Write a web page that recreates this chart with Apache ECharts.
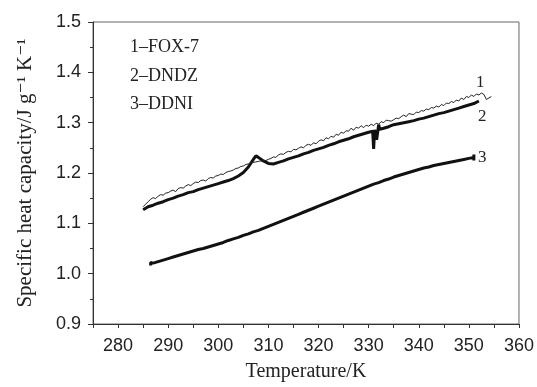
<!DOCTYPE html>
<html>
<head>
<meta charset="utf-8">
<script src="https://cdn.jsdelivr.net/npm/echarts@6/dist/echarts.min.js"></script>
<style>
  body { margin: 0; background: #fff; }
  #chart { width: 537px; height: 387px; }
</style>
</head>
<body>
<div id="chart"></div>
<script>
// 1-FOX-7 (thin line)
var fox7T = [285, 285.5, 286, 286.5, 287, 287.5, 288, 288.5, 289, 289.5, 290, 290.5, 291, 291.5, 292, 292.5, 293, 293.5, 294, 294.5, 295, 295.5, 296, 296.5, 297, 297.5, 298, 298.5, 299, 299.5, 300, 300.5, 301, 301.5, 302, 302.5, 303, 303.5, 304, 304.5, 305, 305.5, 306, 306.5, 307, 307.5, 308, 308.5, 309, 309.5, 310, 310.5, 311, 311.5, 312, 312.5, 313, 313.5, 314, 314.5, 315, 315.5, 316, 316.5, 317, 317.5, 318, 318.5, 319, 319.5, 320, 320.5, 321, 321.5, 322, 322.5, 323, 323.5, 324, 324.5, 325, 325.5, 326, 326.5, 327, 327.5, 328, 328.5, 329, 329.5, 330, 330.5, 331, 331.5, 332, 332.5, 333, 333.5, 334, 334.5, 335, 335.5, 336, 336.5, 337, 337.5, 338, 338.5, 339, 339.5, 340, 340.5, 341, 341.5, 342, 342.5, 343, 343.5, 344, 344.5, 345, 345.5, 346, 346.5, 347, 347.5, 348, 348.5, 349, 349.5, 350, 350.5, 351, 351.5, 352, 352.5, 353, 353.5, 354, 354.5];
var fox7Cp = [1.133, 1.138, 1.143, 1.148, 1.151, 1.149, 1.154, 1.157, 1.156, 1.160, 1.161, 1.164, 1.166, 1.163, 1.169, 1.171, 1.170, 1.174, 1.177, 1.175, 1.179, 1.182, 1.181, 1.185, 1.186, 1.184, 1.189, 1.191, 1.190, 1.194, 1.195, 1.198, 1.197, 1.201, 1.203, 1.204, 1.206, 1.209, 1.210, 1.213, 1.214, 1.217, 1.218, 1.220, 1.221, 1.222, 1.223, 1.224, 1.224, 1.225, 1.227, 1.229, 1.232, 1.231, 1.236, 1.238, 1.237, 1.241, 1.243, 1.242, 1.247, 1.246, 1.249, 1.252, 1.250, 1.255, 1.257, 1.255, 1.260, 1.258, 1.263, 1.266, 1.264, 1.270, 1.268, 1.273, 1.271, 1.277, 1.275, 1.281, 1.279, 1.284, 1.283, 1.289, 1.285, 1.291, 1.289, 1.294, 1.290, 1.295, 1.293, 1.297, 1.294, 1.299, 1.297, 1.302, 1.300, 1.305, 1.304, 1.303, 1.306, 1.309, 1.308, 1.312, 1.315, 1.312, 1.318, 1.317, 1.316, 1.321, 1.320, 1.324, 1.323, 1.327, 1.326, 1.330, 1.329, 1.333, 1.331, 1.336, 1.334, 1.339, 1.338, 1.342, 1.340, 1.345, 1.343, 1.349, 1.346, 1.352, 1.350, 1.355, 1.352, 1.357, 1.355, 1.359, 1.356, 1.346, 1.349, 1.352, 1.357];

// 2-DNDZ (thick line)
var dndzT = [285, 286, 287, 288, 289, 290, 291, 292, 293, 294, 295, 296, 297, 298, 299, 300, 301, 302, 303, 304, 305, 306, 307, 307.5, 308, 309, 310, 311, 312, 313, 314, 315, 316, 317, 318, 319, 320, 321, 322, 323, 324, 325, 326, 327, 328, 329, 330, 330.8, 331, 331.2, 331.6, 332, 332.2, 333, 334, 335, 336, 337, 338, 339, 340, 341, 342, 343, 344, 345, 346, 347, 348, 349, 350, 351, 352];
var dndzCp = [1.127, 1.133, 1.136, 1.140, 1.143, 1.147, 1.150, 1.154, 1.157, 1.161, 1.163, 1.167, 1.170, 1.173, 1.176, 1.179, 1.182, 1.185, 1.189, 1.194, 1.201, 1.212, 1.227, 1.234, 1.231, 1.224, 1.219, 1.218, 1.221, 1.224, 1.228, 1.231, 1.234, 1.238, 1.241, 1.245, 1.248, 1.251, 1.255, 1.258, 1.262, 1.265, 1.268, 1.272, 1.275, 1.278, 1.281, 1.283, 1.248, 1.286, 1.266, 1.296, 1.287, 1.289, 1.292, 1.296, 1.298, 1.300, 1.302, 1.304, 1.307, 1.309, 1.312, 1.315, 1.318, 1.320, 1.323, 1.326, 1.329, 1.332, 1.335, 1.338, 1.343];

// 3-DDNI (thick line)
var ddniT = [286.5, 286.5, 287, 288, 289, 290, 291, 292, 293, 294, 295, 296, 297, 298, 299, 300, 301, 302, 303, 304, 305, 306, 307, 308, 309, 310, 311, 312, 313, 314, 315, 316, 317, 318, 319, 320, 321, 322, 323, 324, 325, 326, 327, 328, 329, 330, 331, 332, 333, 334, 335, 336, 337, 338, 339, 340, 341, 342, 343, 344, 345, 346, 347, 348, 349, 350, 351, 351, 351];
var ddniCp = [1.016, 1.022, 1.021, 1.024, 1.027, 1.030, 1.033, 1.036, 1.039, 1.042, 1.045, 1.048, 1.050, 1.053, 1.056, 1.059, 1.062, 1.066, 1.069, 1.072, 1.076, 1.079, 1.083, 1.086, 1.090, 1.094, 1.098, 1.102, 1.106, 1.110, 1.114, 1.118, 1.122, 1.126, 1.130, 1.134, 1.138, 1.142, 1.146, 1.150, 1.154, 1.158, 1.162, 1.166, 1.170, 1.174, 1.178, 1.181, 1.185, 1.188, 1.192, 1.195, 1.198, 1.201, 1.204, 1.207, 1.210, 1.212, 1.215, 1.217, 1.219, 1.221, 1.223, 1.225, 1.227, 1.229, 1.231, 1.237, 1.225];

var legendLines = ['1\u2013FOX-7', '2\u2013DNDZ', '3\u2013DDNI'];
var curveTags = ['1', '2', '3'];

function pairs(xs, ys) {
  var out = [];
  for (var i = 0; i < xs.length; i++) {
    out.push([xs[i], ys[i]]);
  }
  return out;
}

var chart = echarts.init(document.getElementById('chart'));
var serif = '"Liberation Serif", "DejaVu Serif", serif';
var sans = '"Liberation Sans", Arial, sans-serif';

var option = {
  backgroundColor: '#fff',
  animation: false,
  grid: {
    left: 93, right: 18, top: 22, bottom: 57,
    show: true, borderColor: '#666', borderWidth: 1
  },
  xAxis: {
    type: 'value',
    min: 275, max: 360, interval: 5,
    name: 'Temperature/K',
    nameLocation: 'middle',
    nameGap: 38,
    nameTextStyle: { fontFamily: serif, fontSize: 20, color: '#222' },
    axisLine: { lineStyle: { color: '#333', width: 1 } },
    axisTick: { show: true, inside: false, length: 4, lineStyle: { color: '#333' } },
    axisLabel: {
      fontFamily: sans, fontSize: 18, color: '#222', margin: 13,
      formatter: function (v) { return v % 10 === 0 ? String(v) : ''; }
    },
    splitLine: { show: false }
  },
  yAxis: {
    type: 'value',
    min: 0.9, max: 1.5, interval: 0.1,
    name: 'Specific heat capacity/J g\u207B\u00B9 K\u207B\u00B9',
    nameLocation: 'middle',
    nameGap: 57,
    nameTextStyle: { fontFamily: serif, fontSize: 21, color: '#222' },
    axisLine: { show: true, lineStyle: { color: '#333', width: 1 } },
    axisTick: { show: true, inside: false, length: 5, lineStyle: { color: '#333' } },
    minorTick: { show: true, splitNumber: 2, length: 3, lineStyle: { color: '#333' } },
    axisLabel: {
      fontFamily: sans, fontSize: 18, color: '#222', margin: 12,
      formatter: function (v) { return v.toFixed(1); }
    },
    splitLine: { show: false }
  },
  graphic: [
    { type: 'text', left: 130, top: 38, style: { text: legendLines[0], font: '18px ' + serif, fill: '#222' } },
    { type: 'text', left: 130, top: 67, style: { text: legendLines[1], font: '18px ' + serif, fill: '#222' } },
    { type: 'text', left: 130, top: 95, style: { text: legendLines[2], font: '18px ' + serif, fill: '#222' } },
    { type: 'text', left: 476, top: 74, style: { text: curveTags[0], font: '17px ' + serif, fill: '#222' } },
    { type: 'text', left: 478, top: 108, style: { text: curveTags[1], font: '17px ' + serif, fill: '#222' } },
    { type: 'text', left: 478, top: 149, style: { text: curveTags[2], font: '17px ' + serif, fill: '#222' } }
  ],
  series: [{
    name: 'FOX-7',
    type: 'line',
    data: pairs(fox7T, fox7Cp),
    showSymbol: false,
    lineStyle: { color: '#222', width: 1 },
    z: 3
  }, {
    name: 'DNDZ',
    type: 'line',
    data: pairs(dndzT, dndzCp),
    showSymbol: false,
    lineStyle: { color: '#111', width: 3 },
    z: 2
  }, {
    name: 'DDNI',
    type: 'line',
    data: pairs(ddniT, ddniCp),
    showSymbol: false,
    lineStyle: { color: '#111', width: 3 },
    z: 2
  }]
};

chart.setOption(option);
</script>
</body>
</html>
